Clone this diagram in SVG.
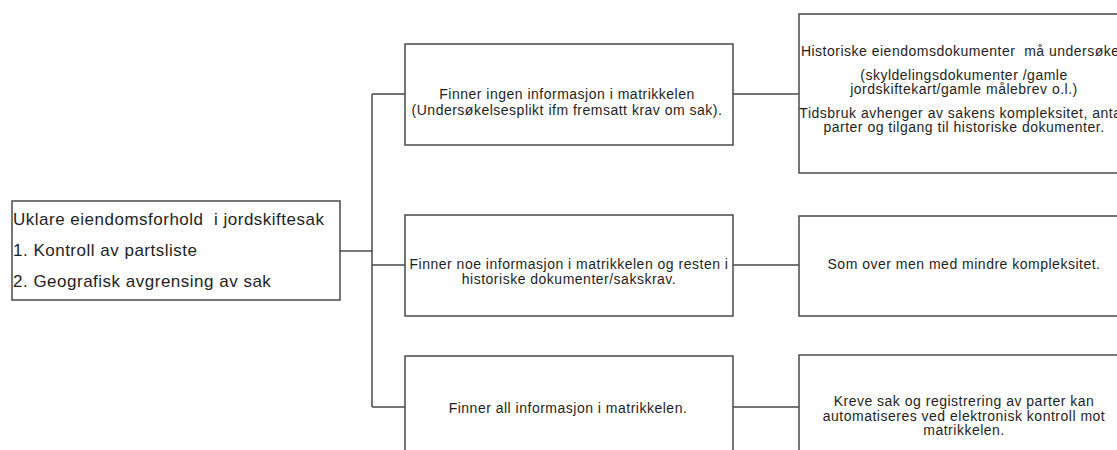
<svg xmlns="http://www.w3.org/2000/svg" width="1117" height="450" viewBox="0 0 1117 450">
<style>
.box{fill:#fff;stroke:#4a4a4a;stroke-width:1.5}
.con{fill:none;stroke:#4a4a4a;stroke-width:1.5}
text{font-family:"Liberation Sans",Arial,sans-serif;fill:#1e1e1e;white-space:pre}
.big{font-size:17px;letter-spacing:0.5px}
.sm{font-size:14px;letter-spacing:0.5px;text-anchor:middle}
</style>
<rect width="1117" height="450" fill="#fff"/>
<g id="connectors">
<path class="con" d="M340 251 H372 M372 94 V407 M372 94 H405 M372 265 H405 M372 407 H405"/>
<path class="con" d="M733 94 H799 M733 265 H799 M733 407 H799"/>
</g>
<g id="root">
<rect class="box" x="12" y="201" width="328" height="99"/>
<text class="big" x="13" y="225">Uklare eiendomsforhold  i jordskiftesak</text>
<text class="big" x="13" y="256">1. Kontroll av partsliste</text>
<text class="big" x="13" y="287">2. Geografisk avgrensing av sak</text>
</g>
<g id="m1">
<rect class="box" x="405" y="44" width="328" height="101"/>
<text class="sm" x="567" y="99">Finner ingen informasjon i matrikkelen</text>
<text class="sm" x="567" y="115">(Undersøkelsesplikt ifm fremsatt krav om sak).</text>
</g>
<g id="m2">
<rect class="box" x="405" y="215" width="328" height="101"/>
<text class="sm" x="569" y="269">Finner noe informasjon i matrikkelen og resten i</text>
<text class="sm" x="569" y="284">historiske dokumenter/sakskrav.</text>
</g>
<g id="m3">
<rect class="box" x="405" y="356" width="328" height="102"/>
<text class="sm" x="568" y="413">Finner all informasjon i matrikkelen.</text>
</g>
<g id="r1">
<rect class="box" x="799" y="14" width="330" height="159"/>
<text class="sm" x="964" y="56">Historiske eiendomsdokumenter  må undersøkes</text>
<text class="sm" x="964" y="80">(skyldelingsdokumenter /gamle</text>
<text class="sm" x="964" y="94">jordskiftekart/gamle målebrev o.l.)</text>
<text class="sm" x="964" y="118">Tidsbruk avhenger av sakens kompleksitet, antall</text>
<text class="sm" x="964" y="132">parter og tilgang til historiske dokumenter.</text>
</g>
<g id="r2">
<rect class="box" x="799" y="216" width="330" height="100"/>
<text class="sm" x="964" y="269">Som over men med mindre kompleksitet.</text>
</g>
<g id="r3">
<rect class="box" x="799" y="355" width="330" height="103"/>
<text class="sm" x="964" y="406">Kreve sak og registrering av parter kan</text>
<text class="sm" x="964" y="421">automatiseres ved elektronisk kontroll mot</text>
<text class="sm" x="964" y="435">matrikkelen.</text>
</g>
</svg>
